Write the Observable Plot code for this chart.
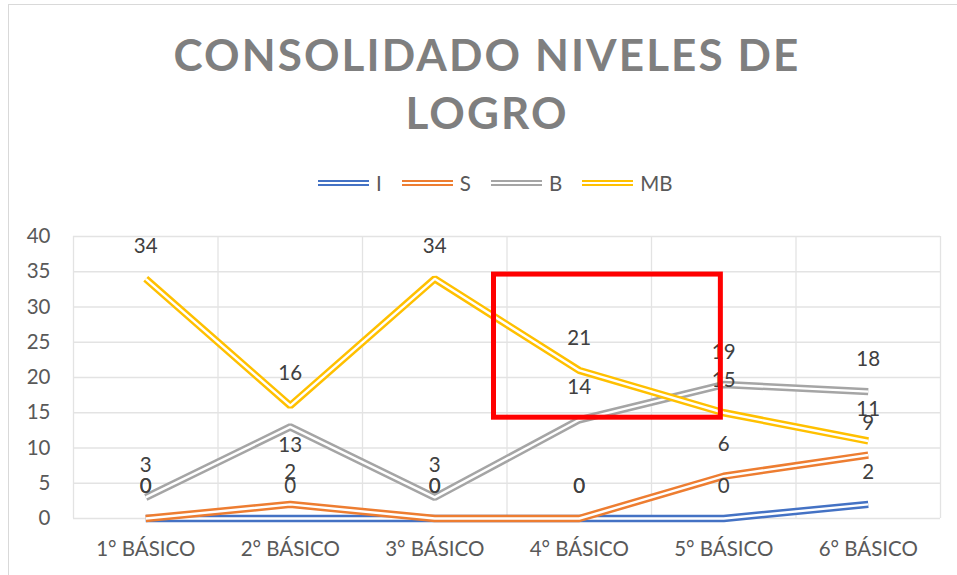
<!DOCTYPE html>
<html>
<head>
<meta charset="utf-8">
<script src="https://cdn.jsdelivr.net/npm/d3@7"></script>
<script src="https://cdn.jsdelivr.net/npm/@observablehq/plot@0.6"></script>
<style>
  html, body { margin: 0; padding: 0; background: #fff; }
  body { width: 957px; height: 575px; overflow: hidden; position: relative; font-family: Lato, "Open Sans", sans-serif; }
  #border { position: absolute; left: 8px; top: 4px; width: 1200px; height: 1200px; border: 1px solid #d9d9d9; box-sizing: border-box; }
  #title { position: absolute; left: 0; top: 25px; width: 974px; text-align: center; font-weight: 700; font-size: 44px; line-height: 58px; letter-spacing: 2.1px; color: #7f7f7f; }
  #legend { position: absolute; left: 318px; top: 170px; display: flex; align-items: center; font-size: 20.5px; color: #595959; height: 26px; }
  .item { display: flex; align-items: center; margin-right: 20px; }
  .sw { width: 51px; height: 2px; border-top: 2.3px solid; border-bottom: 2.3px solid; margin-right: 7px; }
  #chart { position: absolute; left: 0; top: 0; }
</style>
</head>
<body>
<div id="border"></div>
<div id="chart"></div>
<div id="title"></div>
<div id="legend"></div>
<script>
const categories = ["1° BÁSICO", "2° BÁSICO", "3° BÁSICO", "4° BÁSICO", "5° BÁSICO", "6° BÁSICO"];
const seriesNames = ["I", "S", "B", "MB"];
const valuesI = [0, 0, 0, 0, 0, 2];
const valuesS = [0, 2, 0, 0, 6, 9];
const valuesB = [3, 13, 3, 14, 19, 18];
const valuesMB = [34, 16, 34, 21, 15, 11];
const seriesColors = ["#4472C4", "#ED7D31", "#A5A5A5", "#FFC000"];
const yTicks = [0, 5, 10, 15, 20, 25, 30, 35, 40];
const titleLines = ["CONSOLIDADO NIVELES DE", "LOGRO"];
// highlight box in data units (category index, value)
const highlightBox = [{x1: 2.41, x2: 3.98, y1: 14.3, y2: 34.6}];

const allValues = [valuesI, valuesS, valuesB, valuesMB];
const rows = [];
seriesNames.forEach((s, k) => categories.forEach((c, i) => rows.push({series: s, cat: c, idx: i, value: allValues[k][i]})));

document.getElementById("title").innerHTML = titleLines.join("<br>");
const legend = document.getElementById("legend");
seriesNames.forEach((s, k) => {
  const it = document.createElement("div");
  it.className = "item";
  const sw = document.createElement("div");
  sw.className = "sw";
  sw.style.borderColor = seriesColors[k];
  it.appendChild(sw);
  const t = document.createElement("span");
  t.textContent = s;
  it.appendChild(t);
  legend.appendChild(it);
});

const lineMarks = [];
seriesNames.forEach((s, k) => {
  const d = rows.filter(r => r.series === s);
  lineMarks.push(Plot.line(d, {x: "idx", y: "value", stroke: seriesColors[k], strokeWidth: 7.4, strokeLinejoin: "miter", strokeLinecap: "butt"}));
  lineMarks.push(Plot.line(d, {x: "idx", y: "value", stroke: "white", strokeWidth: 2.4, strokeLinejoin: "miter", strokeLinecap: "butt"}));
});

const isBelow = r => r.series === "B" && r.idx === 1;
const chart = Plot.plot({
  width: 957,
  height: 575,
  marginLeft: 73,
  marginRight: 17,
  marginTop: 236,
  marginBottom: 57,
  style: {fontFamily: "Lato, 'Open Sans', sans-serif", fontSize: "20.5px", color: "#595959", background: "transparent", overflow: "visible"},
  x: {domain: [-0.5, 5.5], label: null},
  y: {domain: [0, 40], label: null},
  marks: [
    Plot.ruleY(yTicks, {stroke: "#e3e3e3", strokeWidth: 1.3}),
    Plot.ruleX(d3.range(0, 7).map(i => i - 0.5), {stroke: "#e3e3e3", strokeWidth: 1.3}),
    Plot.axisY(yTicks, {tickSize: 0, tickPadding: 23, fill: "#595959", label: null}),
    Plot.axisX(d3.range(0, 6), {tickSize: 0, tickPadding: 23, tickFormat: i => categories[i], fill: "#595959", label: null}),
    ...lineMarks,
    Plot.text(rows.filter(r => !isBelow(r)), {x: "idx", y: "value", text: d => String(d.value), dy: -32, fill: "#404040", fontSize: 20.5}),
    Plot.text(rows.filter(isBelow), {x: "idx", y: "value", text: d => String(d.value), dy: 19, fill: "#404040", fontSize: 20.5}),
    Plot.rect(highlightBox, {x1: "x1", x2: "x2", y1: "y1", y2: "y2", fill: "none", stroke: "#FF0000", strokeWidth: 5})
  ]
});
document.getElementById("chart").appendChild(chart);
</script>
</body>
</html>
